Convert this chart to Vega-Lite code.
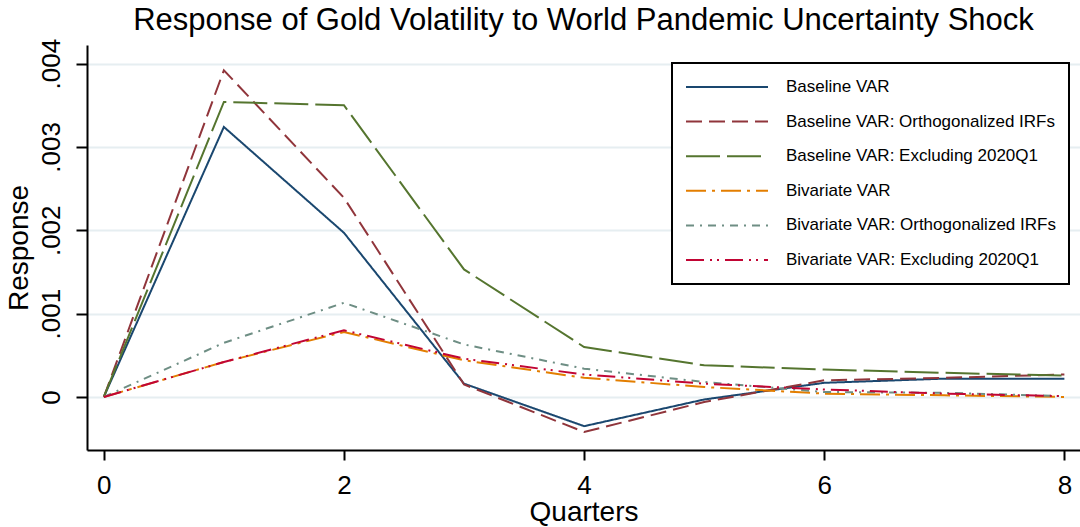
{
  "$schema": "https://vega.github.io/schema/vega-lite/v6.json",
  "width": 993,
  "height": 405,
  "autosize": {"type": "none"},
  "padding": {"left": 87, "top": 45, "right": 0, "bottom": 77},
  "background": "white",
  "title": {
    "text": "Response of Gold Volatility to World Pandemic Uncertainty Shock",
    "fontSize": 31,
    "font": "Liberation Sans",
    "fontWeight": "normal",
    "color": "black",
    "anchor": "middle",
    "frame": "group",
    "offset": 1
  },
  "data": {
    "values": [
      {"series": "Baseline VAR", "q": 0, "r": 0},
      {"series": "Baseline VAR", "q": 1, "r": 0.00324},
      {"series": "Baseline VAR", "q": 2, "r": 0.00197},
      {"series": "Baseline VAR", "q": 3, "r": 0.00016},
      {"series": "Baseline VAR", "q": 4, "r": -0.00035},
      {"series": "Baseline VAR", "q": 5, "r": -0.00003},
      {"series": "Baseline VAR", "q": 6, "r": 0.00017},
      {"series": "Baseline VAR", "q": 7, "r": 0.00022},
      {"series": "Baseline VAR", "q": 8, "r": 0.00022},
      {"series": "Baseline VAR: Orthogonalized IRFs", "q": 0, "r": 0},
      {"series": "Baseline VAR: Orthogonalized IRFs", "q": 1, "r": 0.00392},
      {"series": "Baseline VAR: Orthogonalized IRFs", "q": 2, "r": 0.00239},
      {"series": "Baseline VAR: Orthogonalized IRFs", "q": 3, "r": 0.00015},
      {"series": "Baseline VAR: Orthogonalized IRFs", "q": 4, "r": -0.00042},
      {"series": "Baseline VAR: Orthogonalized IRFs", "q": 5, "r": -0.00006},
      {"series": "Baseline VAR: Orthogonalized IRFs", "q": 6, "r": 0.0002},
      {"series": "Baseline VAR: Orthogonalized IRFs", "q": 7, "r": 0.00023},
      {"series": "Baseline VAR: Orthogonalized IRFs", "q": 8, "r": 0.00027},
      {"series": "Baseline VAR: Excluding 2020Q1", "q": 0, "r": 0},
      {"series": "Baseline VAR: Excluding 2020Q1", "q": 1, "r": 0.00354},
      {"series": "Baseline VAR: Excluding 2020Q1", "q": 2, "r": 0.0035},
      {"series": "Baseline VAR: Excluding 2020Q1", "q": 3, "r": 0.00153},
      {"series": "Baseline VAR: Excluding 2020Q1", "q": 4, "r": 0.0006},
      {"series": "Baseline VAR: Excluding 2020Q1", "q": 5, "r": 0.00038},
      {"series": "Baseline VAR: Excluding 2020Q1", "q": 6, "r": 0.00033},
      {"series": "Baseline VAR: Excluding 2020Q1", "q": 7, "r": 0.00029},
      {"series": "Baseline VAR: Excluding 2020Q1", "q": 8, "r": 0.000256},
      {"series": "Bivariate VAR", "q": 0, "r": 0},
      {"series": "Bivariate VAR", "q": 1, "r": 0.00042},
      {"series": "Bivariate VAR", "q": 2, "r": 0.00078},
      {"series": "Bivariate VAR", "q": 3, "r": 0.00044},
      {"series": "Bivariate VAR", "q": 4, "r": 0.00023},
      {"series": "Bivariate VAR", "q": 5, "r": 0.00012},
      {"series": "Bivariate VAR", "q": 6, "r": 0.00004},
      {"series": "Bivariate VAR", "q": 7, "r": 0.00002},
      {"series": "Bivariate VAR", "q": 8, "r": 0.0},
      {"series": "Bivariate VAR: Orthogonalized IRFs", "q": 0, "r": 0},
      {"series": "Bivariate VAR: Orthogonalized IRFs", "q": 1, "r": 0.00065},
      {"series": "Bivariate VAR: Orthogonalized IRFs", "q": 2, "r": 0.00113},
      {"series": "Bivariate VAR: Orthogonalized IRFs", "q": 3, "r": 0.00063},
      {"series": "Bivariate VAR: Orthogonalized IRFs", "q": 4, "r": 0.00034},
      {"series": "Bivariate VAR: Orthogonalized IRFs", "q": 5, "r": 0.00018},
      {"series": "Bivariate VAR: Orthogonalized IRFs", "q": 6, "r": 0.00006},
      {"series": "Bivariate VAR: Orthogonalized IRFs", "q": 7, "r": 0.00005},
      {"series": "Bivariate VAR: Orthogonalized IRFs", "q": 8, "r": 0.00001},
      {"series": "Bivariate VAR: Excluding 2020Q1", "q": 0, "r": 0},
      {"series": "Bivariate VAR: Excluding 2020Q1", "q": 1, "r": 0.00042},
      {"series": "Bivariate VAR: Excluding 2020Q1", "q": 2, "r": 0.0008},
      {"series": "Bivariate VAR: Excluding 2020Q1", "q": 3, "r": 0.00046},
      {"series": "Bivariate VAR: Excluding 2020Q1", "q": 4, "r": 0.00027},
      {"series": "Bivariate VAR: Excluding 2020Q1", "q": 5, "r": 0.00016},
      {"series": "Bivariate VAR: Excluding 2020Q1", "q": 6, "r": 0.00009},
      {"series": "Bivariate VAR: Excluding 2020Q1", "q": 7, "r": 0.00004},
      {"series": "Bivariate VAR: Excluding 2020Q1", "q": 8, "r": 0.00001}
    ]
  },
  "mark": {"type": "line", "strokeWidth": 2, "clip": true},
  "encoding": {
    "x": {
      "field": "q",
      "type": "quantitative",
      "title": "Quarters",
      "scale": {"domain": [-0.14, 8.13], "nice": false, "zero": false},
      "axis": {
        "values": [0, 2, 4, 6, 8],
        "grid": false,
        "tickSize": 10,
        "tickWidth": 2,
        "tickColor": "black",
        "domainColor": "black",
        "domainWidth": 2,
        "labelFontSize": 26,
        "labelPadding": 12,
        "labelColor": "black",
        "labelFont": "Liberation Sans",
        "titleFont": "Liberation Sans",
        "titleFontSize": 28,
        "titleFontWeight": "normal",
        "titleColor": "black",
        "titlePadding": 0
      }
    },
    "y": {
      "field": "r",
      "type": "quantitative",
      "title": "Response",
      "scale": {"domain": [-0.000636, 0.004223], "nice": false, "zero": false},
      "axis": {
        "values": [0, 0.001, 0.002, 0.003, 0.004],
        "labelExpr": "datum.value == 0 ? '0' : replace(format(datum.value, '.3f'), '0.', '.')",
        "labelAngle": -90,
        "labelAlign": "center",
        "labelBaseline": "bottom",
        "grid": true,
        "gridColor": "#e6eef1",
        "gridWidth": 2,
        "tickSize": 11,
        "tickWidth": 2,
        "tickColor": "black",
        "domainColor": "black",
        "domainWidth": 2,
        "labelFontSize": 26,
        "labelPadding": 12,
        "labelColor": "black",
        "labelFont": "Liberation Sans",
        "titleFont": "Liberation Sans",
        "titleFontSize": 28,
        "titleFontWeight": "normal",
        "titleColor": "black",
        "titlePadding": 5
      }
    },
    "color": {
      "field": "series",
      "type": "nominal",
      "title": null,
      "scale": {
        "domain": ["Baseline VAR", "Baseline VAR: Orthogonalized IRFs", "Baseline VAR: Excluding 2020Q1", "Bivariate VAR", "Bivariate VAR: Orthogonalized IRFs", "Bivariate VAR: Excluding 2020Q1"],
        "range": ["#1a476f", "#90353b", "#55752f", "#e37e00", "#6e8e84", "#c10534"]
      },
      "legend": {
        "orient": "none",
        "legendX": 585,
        "legendY": 18,
        "symbolType": "stroke",
        "symbolSize": 6724,
        "symbolStrokeWidth": 2,
        "clipHeight": 22,
        "rowPadding": 12.6,
        "labelOffset": 17,
        "labelFontSize": 17,
        "labelFont": "Liberation Sans",
        "labelColor": "black",
        "labelLimit": 400,
        "labelExpr": "datum.label + '\u00a0\u00a0\u00a0\u00a0\u00a0\u00a0\u00a0'",
        "padding": 13,
        "strokeColor": "black",
        "fillColor": "white"
      }
    },
    "strokeDash": {
      "field": "series",
      "type": "nominal",
      "title": null,
      "scale": {
        "domain": ["Baseline VAR", "Baseline VAR: Orthogonalized IRFs", "Baseline VAR: Excluding 2020Q1", "Bivariate VAR", "Bivariate VAR: Orthogonalized IRFs", "Bivariate VAR: Excluding 2020Q1"],
        "range": [[1, 0], [16, 7], [34, 7], [20, 6, 3, 6], [8, 6, 2, 6], [18, 6, 2, 5, 2, 6]]
      }
    }
  },
  "config": {
    "view": {"stroke": null},
    "font": "Liberation Sans",
    "legend": {"strokeWidth": 2}
  }
}
